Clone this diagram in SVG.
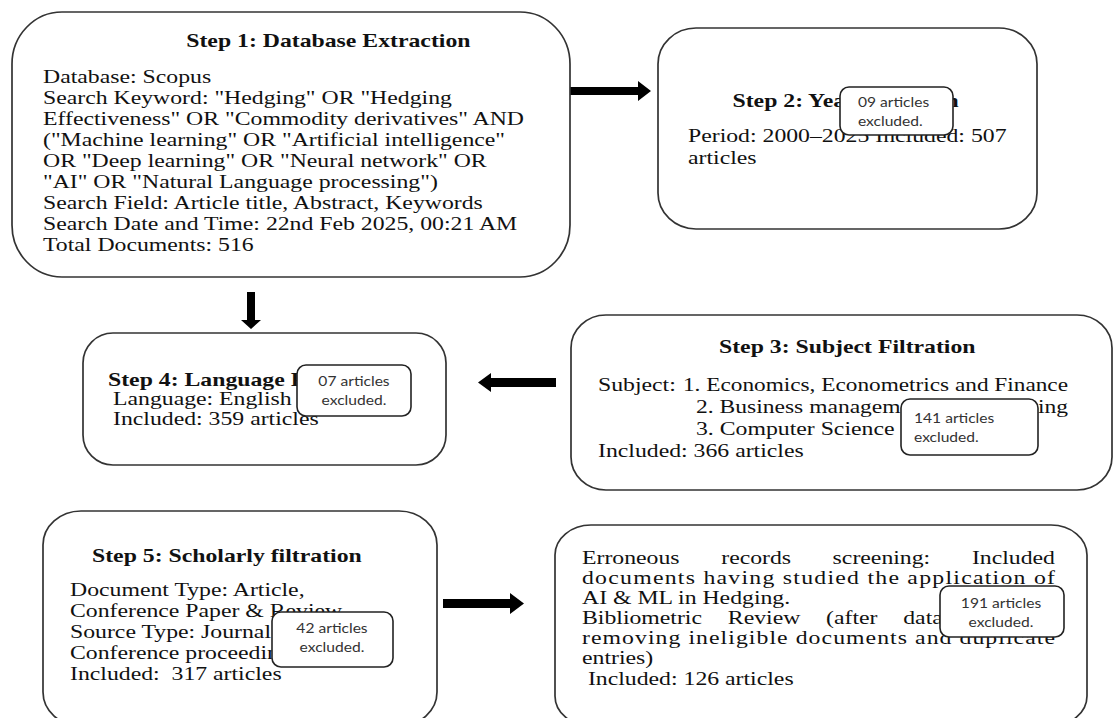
<svg xmlns="http://www.w3.org/2000/svg" width="1113" height="718" viewBox="0 0 1113 718">
<style>
.box{fill:#fff;stroke:#333;stroke-width:1.7}
.call{fill:#fff;stroke:#222;stroke-width:1.6}
.t{font-family:"Liberation Serif","Times New Roman",serif;font-size:19px;fill:#111;white-space:pre}
.b{font-family:"Liberation Serif","Times New Roman",serif;font-size:19px;font-weight:bold;fill:#111}
.c{font-family:Lato,"Open Sans",sans-serif;font-size:12.5px;fill:#333}
.arr{fill:#000}
</style>
<rect width="1113" height="718" fill="#fff"/>
<g id="connectors">
<path class="arr" d="M568,87 H638 V81 L651,91 L638,101 V95 H568 Z"/>
<path class="arr" d="M247,292 V320 H241 L251,329 L261,320 H255 V292 Z"/>
<path class="arr" d="M556,378 H491 V373 L478,382.5 L491,392 V387 H556 Z"/>
<path class="arr" d="M443,599 H510 V593 L524,603.5 L510,614 V608 H443 Z"/>
</g>
<g id="step1">
<rect class="box" x="12" y="12" width="558" height="265" rx="50" ry="52"/>
<g transform="scale(1.25 1)">
<text class="b" x="149" y="47">Step 1: Database Extraction</text>
<text class="t" x="34.4" y="83">Database: Scopus</text>
<text class="t" x="34.4" y="104">Search Keyword: "Hedging" OR "Hedging</text>
<text class="t" x="34.4" y="125">Effectiveness" OR "Commodity derivatives" AND</text>
<text class="t" x="34.4" y="146">("Machine learning" OR "Artificial intelligence"</text>
<text class="t" x="34.4" y="167">OR "Deep learning" OR "Neural network" OR</text>
<text class="t" x="34.4" y="188">"AI" OR "Natural Language processing")</text>
<text class="t" x="34.4" y="209">Search Field: Article title, Abstract, Keywords</text>
<text class="t" x="34.4" y="230">Search Date and Time: 22nd Feb 2025, 00:21 AM</text>
<text class="t" x="34.4" y="251">Total Documents: 516</text>
</g>
</g>
<g id="step2">
<rect class="box" x="658" y="28" width="379" height="201" rx="38" ry="36"/>
<g transform="scale(1.25 1)">
<text class="b" x="586" y="107">Step 2: Year Filtration</text>
<text class="t" x="550.4" y="142">Period: 2000–2025 Included: 507</text>
<text class="t" x="550.4" y="164">articles</text>
</g>
<g id="excl2">
<rect class="call" x="840" y="87" width="113" height="48" rx="9"/>
<g transform="scale(1.25 1)">
<text class="c" x="686.4" y="107">09 articles</text>
<text class="c" x="686.4" y="126">excluded.</text>
</g>
</g>
</g>
<g id="step3">
<rect class="box" x="571" y="315" width="541" height="175" rx="35" ry="33"/>
<g transform="scale(1.25 1)">
<text class="b" x="575.2" y="353">Step 3: Subject Filtration</text>
<text class="t" x="478.4" y="391">Subject:</text>
<text class="t" x="546.4" y="391" textLength="308" lengthAdjust="spacingAndGlyphs">1. Economics, Econometrics and Finance</text>
<text class="t" x="556.8" y="413" textLength="297.6" lengthAdjust="spacingAndGlyphs">2. Business management &amp; Accounting</text>
<text class="t" x="556.8" y="435">3. Computer Science</text>
<text class="t" x="478.4" y="457">Included: 366 articles</text>
</g>
<g id="excl3">
<rect class="call" x="901" y="399" width="137" height="56" rx="9"/>
<g transform="scale(1.25 1)">
<text class="c" x="731.2" y="423">141 articles</text>
<text class="c" x="731.2" y="442">excluded.</text>
</g>
</g>
</g>
<g id="step4">
<rect class="box" x="83" y="333" width="363" height="132" rx="30" ry="30"/>
<g transform="scale(1.25 1)">
<text class="b" x="86.4" y="386">Step 4: Language Filtration</text>
<text class="t" x="90.4" y="405">Language: English</text>
<text class="t" x="90.4" y="425">Included: 359 articles</text>
</g>
<g id="excl4">
<rect class="call" x="297" y="365" width="114" height="51" rx="9"/>
<g transform="scale(1.25 1)">
<text class="c" x="283.2" y="386" text-anchor="middle">07 articles</text>
<text class="c" x="283.2" y="405" text-anchor="middle">excluded.</text>
</g>
</g>
</g>
<g id="step5">
<rect class="box" x="43" y="511" width="394" height="215" rx="38" ry="34"/>
<g transform="scale(1.25 1)">
<text class="b" x="73.6" y="562">Step 5: Scholarly filtration</text>
<text class="t" x="56" y="596">Document Type: Article,</text>
<text class="t" x="56" y="617">Conference Paper &amp; Review,</text>
<text class="t" x="56" y="638">Source Type: Journal and</text>
<text class="t" x="56" y="659">Conference proceedings</text>
<text class="t" x="56" y="680">Included:  317 articles</text>
</g>
<g id="excl5">
<rect class="call" x="272" y="612" width="121" height="55" rx="9"/>
<g transform="scale(1.25 1)">
<text class="c" x="265.6" y="633" text-anchor="middle">42 articles</text>
<text class="c" x="265.6" y="652" text-anchor="middle">excluded.</text>
</g>
</g>
</g>
<g id="step6">
<rect class="box" x="555" y="525" width="532" height="201" rx="36" ry="30"/>
<g transform="scale(1.25 1)">
<text class="t" y="564"><tspan x="465.6">Erroneous</tspan><tspan x="577">records</tspan><tspan x="666.1">screening:</tspan></text>
<text class="t" x="844" y="564" text-anchor="end">Included</text>
<text class="t" x="465.6" y="584" textLength="378.4" lengthAdjust="spacing">documents having studied the application of</text>
<text class="t" x="465.6" y="604">AI &amp; ML in Hedging.</text>
<text class="t" y="624"><tspan x="465.6">Bibliometric</tspan><tspan x="582.3">Review</tspan><tspan x="660.9">(after</tspan><tspan x="722.6">data</tspan></text>
<text class="t" x="844" y="624" text-anchor="end">cleaning,</text>
<text class="t" x="465.6" y="644" textLength="378.4" lengthAdjust="spacing">removing ineligible documents and duplicate</text>
<text class="t" x="465.6" y="664">entries)</text>
<text class="t" x="465.6" y="685"> Included: 126 articles</text>
</g>
<g id="excl6">
<rect class="call" x="940" y="586" width="124" height="51" rx="9"/>
<g transform="scale(1.25 1)">
<text class="c" x="800.8" y="608" text-anchor="middle">191 articles</text>
<text class="c" x="800.8" y="627" text-anchor="middle">excluded.</text>
</g>
</g>
</g>
</svg>
